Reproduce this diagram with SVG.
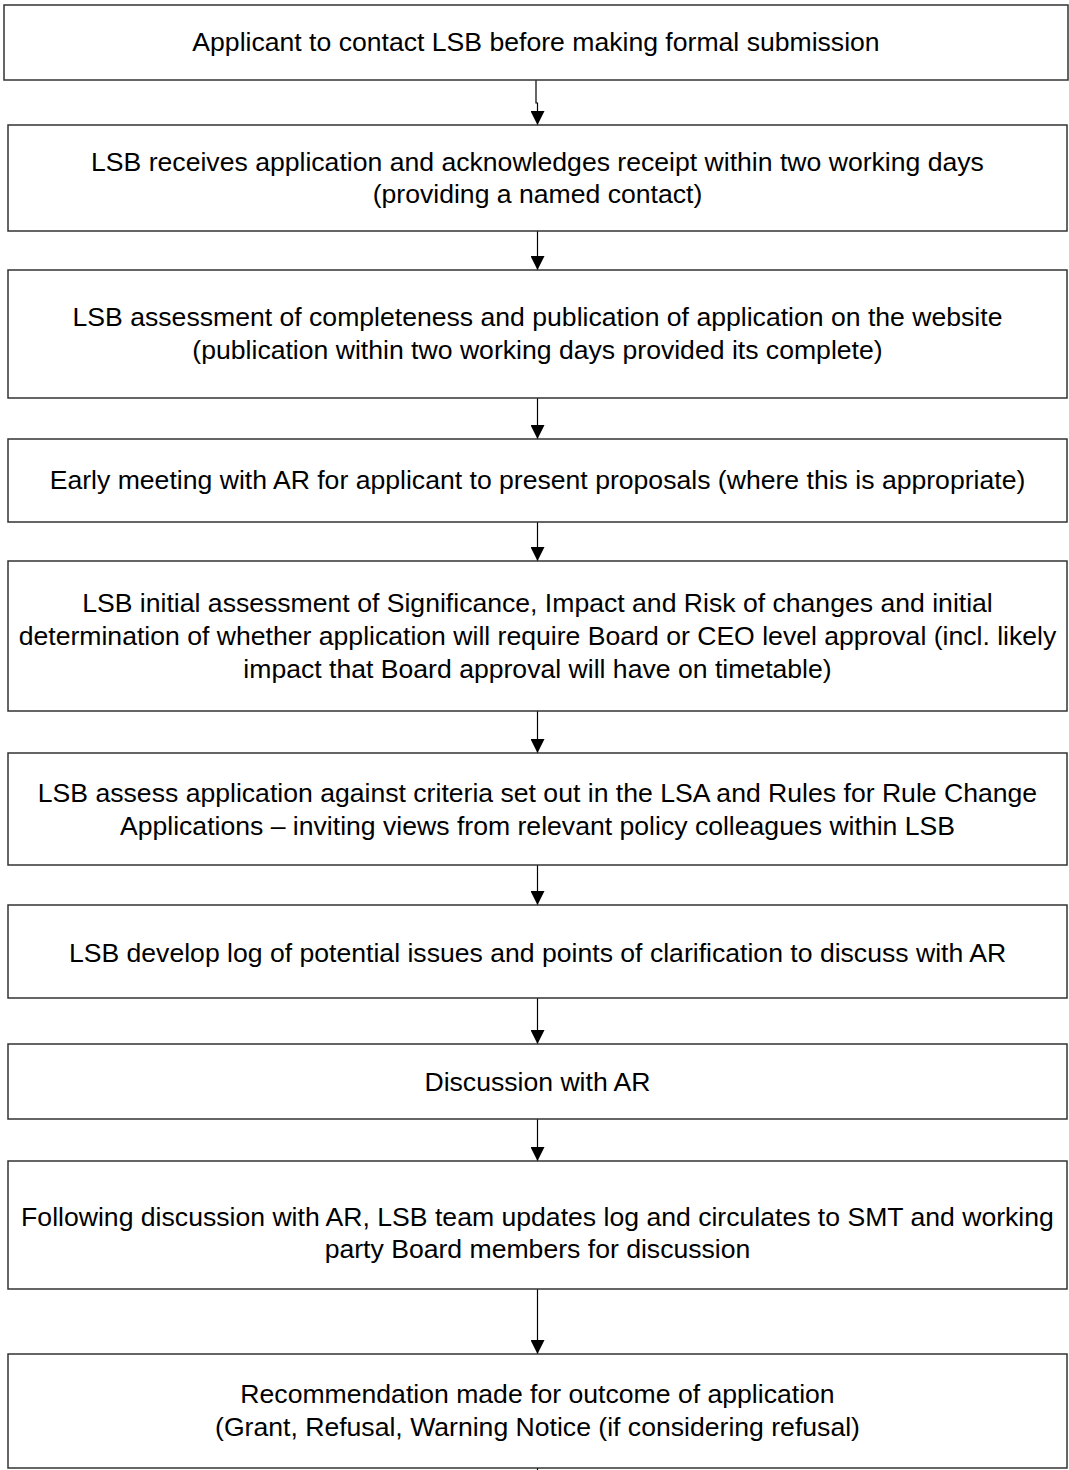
<svg xmlns="http://www.w3.org/2000/svg" width="1069" height="1470" viewBox="0 0 1069 1470">
<style>
.box{fill:#fff;stroke:#333;stroke-width:1.5}
.t{font-family:"Liberation Sans",Arial,sans-serif;font-size:26.6px;fill:#000;text-anchor:middle;dominant-baseline:central}
.c{stroke:#000;stroke-width:1.2;fill:none}
</style>
<defs>
<marker id="ah" markerUnits="userSpaceOnUse" markerWidth="14" markerHeight="14" refX="14" refY="7" orient="auto">
<path d="M0,0 L14,7 L0,14 z" fill="#000"/>
</marker>
</defs>
<rect width="1069" height="1470" fill="#fff"/>
<g id="connectors">
<path class="c" d="M536,80 V103 H537.5 V125" marker-end="url(#ah)"/>
<path class="c" d="M537.5,231 V270" marker-end="url(#ah)"/>
<path class="c" d="M537.5,398 V439" marker-end="url(#ah)"/>
<path class="c" d="M537.5,522 V561" marker-end="url(#ah)"/>
<path class="c" d="M537.5,711 V753" marker-end="url(#ah)"/>
<path class="c" d="M537.5,865 V905" marker-end="url(#ah)"/>
<path class="c" d="M537.5,998 V1044" marker-end="url(#ah)"/>
<path class="c" d="M537.5,1119 V1161" marker-end="url(#ah)"/>
<path class="c" d="M537.5,1289 V1354" marker-end="url(#ah)"/>
<path class="c" d="M537.5,1468 V1470"/>
</g>
<g id="n1"><rect class="box" x="4" y="5" width="1064" height="75"/>
<text class="t" x="536" y="42">Applicant to contact LSB before making formal submission</text></g>
<g id="n2"><rect class="box" x="8" y="125" width="1059" height="106"/>
<text class="t" x="537.5" y="162">LSB receives application and acknowledges receipt within two working days</text>
<text class="t" x="537.5" y="194">(providing a named contact)</text></g>
<g id="n3"><rect class="box" x="8" y="270" width="1059" height="128"/>
<text class="t" x="537.5" y="317">LSB assessment of completeness and publication of application on the website</text>
<text class="t" x="537.5" y="350">(publication within two working days provided its complete)</text></g>
<g id="n4"><rect class="box" x="8" y="439" width="1059" height="83"/>
<text class="t" x="537.5" y="480">Early meeting with AR for applicant to present proposals (where this is appropriate)</text></g>
<g id="n5"><rect class="box" x="8" y="561" width="1059" height="150"/>
<text class="t" x="537.5" y="603">LSB initial assessment of Significance, Impact and Risk of changes and initial</text>
<text class="t" x="537.5" y="636">determination of whether application will require Board or CEO level approval (incl. likely</text>
<text class="t" x="537.5" y="669">impact that Board approval will have on timetable)</text></g>
<g id="n6"><rect class="box" x="8" y="753" width="1059" height="112"/>
<text class="t" x="537.5" y="793">LSB assess application against criteria set out in the LSA and Rules for Rule Change</text>
<text class="t" x="537.5" y="826">Applications – inviting views from relevant policy colleagues within LSB</text></g>
<g id="n7"><rect class="box" x="8" y="905" width="1059" height="93"/>
<text class="t" x="537.5" y="953">LSB develop log of potential issues and points of clarification to discuss with AR</text></g>
<g id="n8"><rect class="box" x="8" y="1044" width="1059" height="75"/>
<text class="t" x="537.5" y="1082">Discussion with AR</text></g>
<g id="n9"><rect class="box" x="8" y="1161" width="1059" height="128"/>
<text class="t" x="537.5" y="1217">Following discussion with AR, LSB team updates log and circulates to SMT and working</text>
<text class="t" x="537.5" y="1249">party Board members for discussion</text></g>
<g id="n10"><rect class="box" x="8" y="1354" width="1059" height="114"/>
<text class="t" x="537.5" y="1394">Recommendation made for outcome of application</text>
<text class="t" x="537.5" y="1427">(Grant, Refusal, Warning Notice (if considering refusal)</text></g>
</svg>
